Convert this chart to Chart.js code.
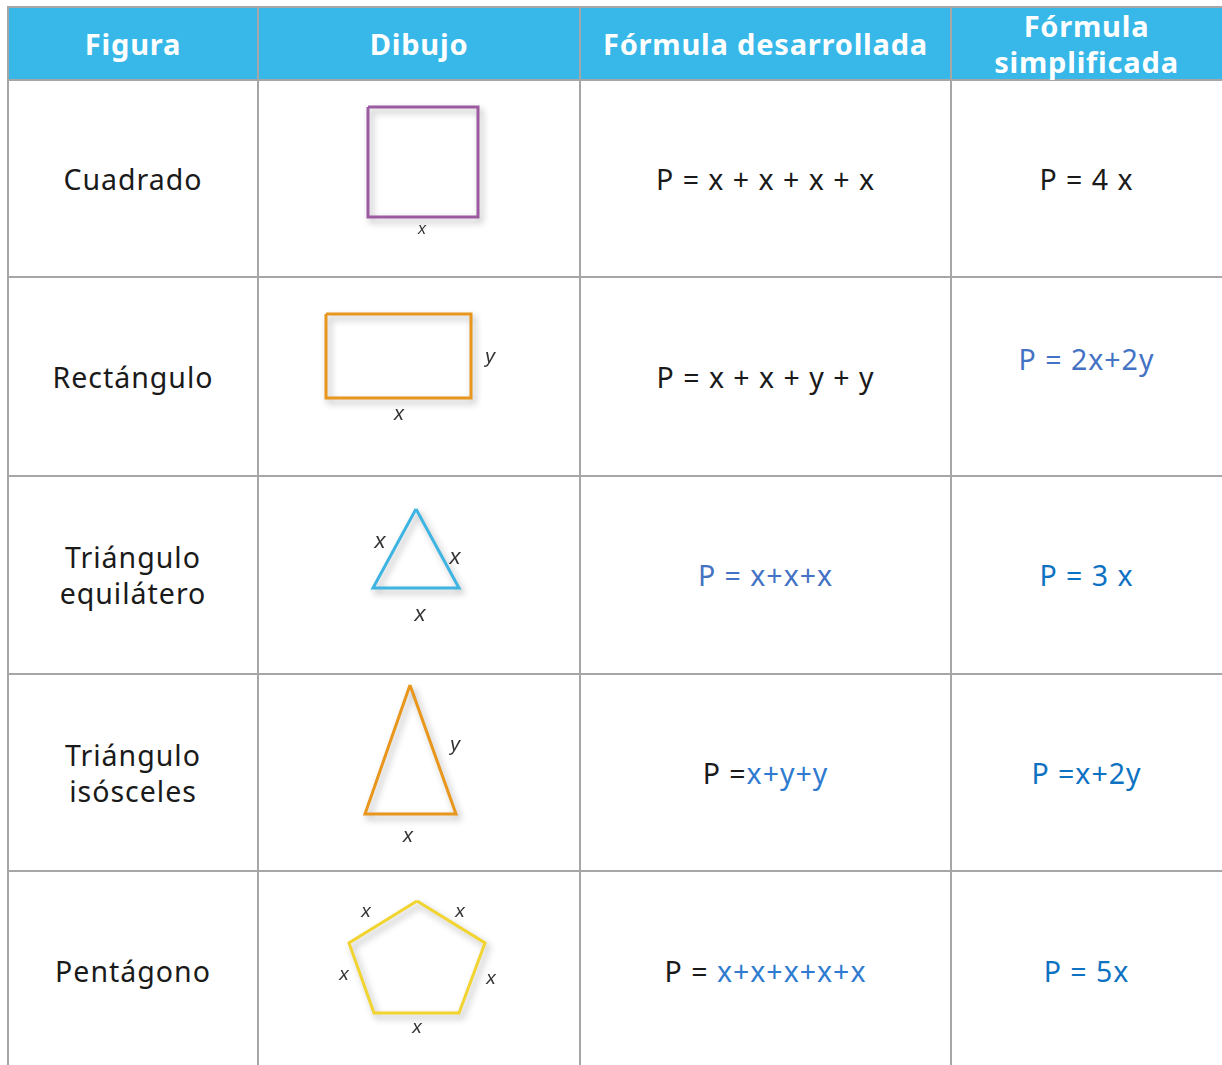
<!DOCTYPE html>
<html>
<head>
<meta charset="utf-8">
<script src="https://cdn.jsdelivr.net/npm/chart.js@4/dist/chart.umd.min.js"></script>
<style>
  html, body { margin:0; padding:0; background:#fff; }
  body { width:1222px; height:1065px; position:relative; overflow:hidden; font-family:"Noto Sans", sans-serif; }
  .hdr { position:absolute; left:8px; top:7px; width:1214px; height:73px; background:#37b8e9; }
  .hl { position:absolute; height:2px; background:#a6a6a6; }
  .vl { position:absolute; width:2px; background:#a6a6a6; }
  .txt { position:absolute; text-align:center; white-space:pre; transform:translate(-50%,-50%); line-height:36px; }
  .h { color:#fff; font-weight:700; font-size:29px; letter-spacing:0.8px; }
  .c { color:#1a1a1a; font-size:28.5px; letter-spacing:1px; }
  canvas.shape { position:absolute; }
</style>
</head>
<body>
<div class="hdr"></div>
<div id="root"></div>
<script>
// ---------- data ----------
const headers = ["Figura", "Dibujo", "Fórmula desarrollada", "Fórmula\nsimplificada"];
const figuras = ["Cuadrado", "Rectángulo", "Triángulo\nequilátero", "Triángulo\nisósceles", "Pentágono"];
// each formula: list of [text, colourKey]
const formulaDesarrollada = [
  [["P = x + x + x + x", "k"]],
  [["P = x + x + y + y", "k"]],
  [["P = x+x+x", "b1"]],
  [["P =", "k"], ["x+y+y", "b3"]],
  [["P = ", "k"], ["x+x+x+x+x", "b3"]]
];
const formulaSimplificada = [
  [["P = 4 x", "k"]],
  [["P = 2x+2y", "b1"]],
  [["P = 3 x", "b2"]],
  [["P =x+2y", "b2"]],
  [["P = 5x", "b2"]]
];
// shape vertices (cell-local units)
const cuadrado = [[110,27],[220,27],[220,137],[110,137],[110,27]];
const rectangulo = [[68,37],[213,37],[213,121],[68,121],[68,37]];
const equilatero = [[158,33],[201,112],[115,112],[158,33]];
const isosceles = [[152,11],[198,140],[107,140],[152,11]];
const pentagono = [[159,30],[227,72],[201,142],[116,142],[91,72],[159,30]];
const shapes = [cuadrado, rectangulo, equilatero, isosceles, pentagono];
const shapeColors = ["#9c5aa1", "#e8961c", "#3db4e1", "#e8961c", "#f1d430"];
// side labels [text, x, y]
const shapeLabels = [
  [["x",164,150]],
  [["y",232,80],["x",141,137]],
  [["x",122,66],["x",197,82],["x",162,139]],
  [["y",197,71],["x",150,162]],
  [["x",108,41],["x",202,41],["x",86,104],["x",233,108],["x",159,157]]
];
const labelSizes = [16, 20, 22, 20, 19];

// ---------- layout ----------
const colX = [8, 258, 580, 951, 1222];
const rowY = [7, 80, 277, 476, 674, 871, 1065];
const colours = { k:"#1a1a1a", b1:"#4472c4", b2:"#0d72c2", b3:"#2f7bd0" };
const root = document.getElementById('root');

function hline(y){ const d=document.createElement('div'); d.className='hl'; d.style.left=colX[0]+'px'; d.style.top=(y-1)+'px'; d.style.width=(1222-colX[0])+'px'; root.appendChild(d); }
function vline(x){ const d=document.createElement('div'); d.className='vl'; d.style.left=(x-1)+'px'; d.style.top=rowY[0]-1+'px'; d.style.height=(1065-rowY[0]+1)+'px'; root.appendChild(d); }
rowY.slice(0,6).forEach(hline);
colX.slice(0,4).forEach(vline);

function addText(cls, cx, cy, parts){
  const d=document.createElement('div'); d.className='txt '+cls;
  d.style.left=cx+'px'; d.style.top=cy+'px';
  if (typeof parts === 'string') d.textContent = parts;
  else parts.forEach(([t,c])=>{ const s=document.createElement('span'); s.textContent=t; s.style.color=colours[c]; d.appendChild(s); });
  root.appendChild(d);
}
const colC = i => (colX[i]+colX[i+1])/2;
addText('h', colC(0), 44, headers[0]);
addText('h', colC(1), 44, headers[1]);
addText('h', colC(2), 44, headers[2]);
addText('h', colC(3), 44, headers[3]);

const simpY = [179, 359, 575, 773, 971];
const desY = [179, 377, 575, 773, 971];
const figY = [179, 377, 575, 773, 971];
figuras.forEach((f,i)=>{
  addText('c', colC(0), figY[i], f);
  addText('c', colC(2), desY[i], formulaDesarrollada[i]);
  addText('c', colC(3), simpY[i], formulaSimplificada[i]);
});

// ---------- shapes with Chart.js ----------
const shadowPlugin = {
  id:'shadow',
  beforeDatasetsDraw(chart){ const c=chart.ctx; c.save(); c.shadowColor='rgba(0,0,0,0.3)'; c.shadowBlur=7; c.shadowOffsetX=3; c.shadowOffsetY=4; },
  afterDatasetsDraw(chart){ chart.ctx.restore(); }
};
const labelPlugin = {
  id:'sideLabels',
  afterDraw(chart, args, opts){
    const c=chart.ctx, xs=chart.scales.x, ys=chart.scales.y;
    c.save();
    c.font='italic '+opts.size+'px "Liberation Sans", sans-serif';
    c.fillStyle='#333';
    c.textAlign='center'; c.textBaseline='middle';
    opts.labels.forEach(([t,x,y])=> c.fillText(t, xs.getPixelForValue(x), ys.getPixelForValue(y)));
    c.restore();
  }
};
shapes.forEach((pts,i)=>{
  const w = colX[2]-colX[1], h = rowY[i+2]-rowY[i+1];
  const cv=document.createElement('canvas'); cv.className='shape';
  const wrap=document.createElement('div');
  wrap.style.position='absolute'; wrap.style.left=(colX[1]+1)+'px'; wrap.style.top=(rowY[i+1]+1)+'px';
  wrap.style.width=(w-2)+'px'; wrap.style.height=(h-2)+'px';
  cv.style.position='static';
  wrap.appendChild(cv); root.appendChild(wrap);
  new Chart(cv, {
    type:'scatter',
    data:{ datasets:[{ data: pts.map(([x,y])=>({x,y})), showLine:true, borderColor:shapeColors[i], borderWidth:3, pointRadius:0, fill:false, tension:0, borderJoinStyle:'miter' }] },
    options:{
      responsive:true, maintainAspectRatio:false, animation:false,
      layout:{ padding:0 },
      plugins:{ legend:{display:false}, tooltip:{enabled:false}, sideLabels:{ labels:shapeLabels[i], size:labelSizes[i] } },
      scales:{
        x:{ type:'linear', display:false, min:1, max:w-1 },
        y:{ type:'linear', display:false, min:1, max:h-1, reverse:true }
      }
    },
    plugins:[shadowPlugin, labelPlugin]
  });
});
</script>
</body>
</html>
